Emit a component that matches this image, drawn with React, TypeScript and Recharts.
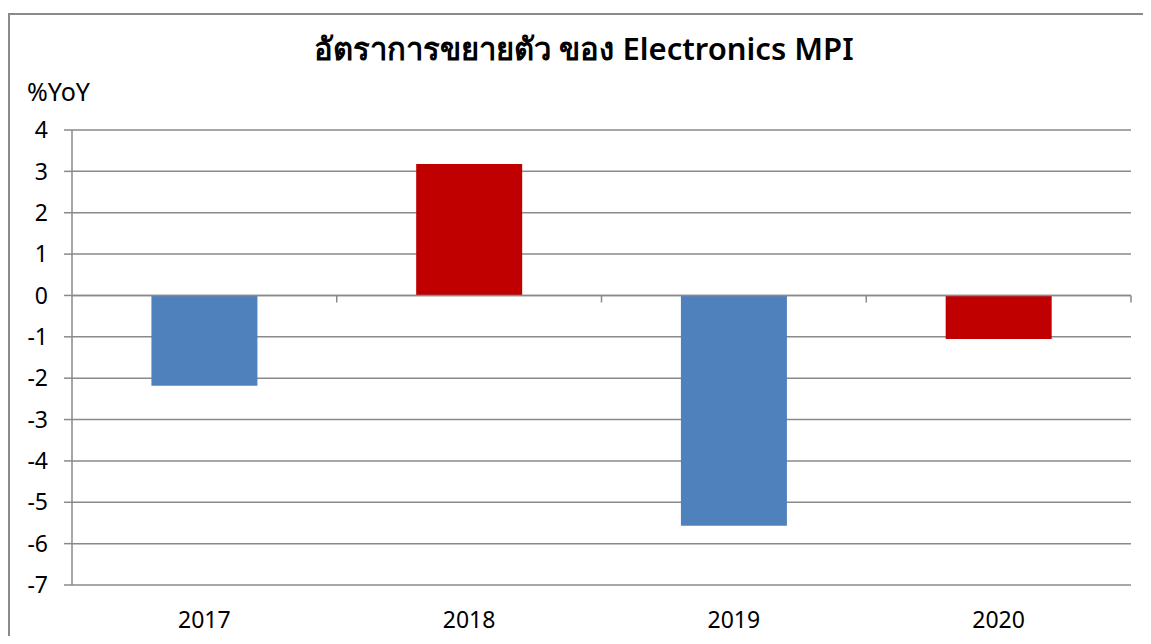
import { BarChart, Bar, XAxis, YAxis, CartesianGrid, Cell, ReferenceLine } from "recharts";

const years = ["2017", "2018", "2019", "2020"];
const growth = [-2.18, 3.18, -5.57, -1.05];
const barColors = ["#4F81BD", "#C00000", "#4F81BD", "#C00000"];
const yTicks = [4, 3, 2, 1, 0, -1, -2, -3, -4, -5, -6, -7];

const data = years.map((year, i) => ({ year, value: growth[i] }));

const FONT = "'Noto Sans', 'Open Sans', sans-serif";
const GRID = "#8a8a8a";
// short tick marks hanging below the zero line, in data units
const TICK_DEPTH = 0.17;

export default function App() {
  return (
    <div style={{ position: "relative", width: 1143, height: 628, fontFamily: FONT }}>
      <div
        style={{
          position: "absolute",
          left: 0,
          top: 5,
          right: 0,
          bottom: 0,
          borderTop: `2px solid ${GRID}`,
          borderLeft: `2px solid ${GRID}`,
        }}
      />
      <div
        style={{
          position: "absolute",
          left: 0,
          width: 1152,
          top: 16,
          textAlign: "center",
          fontSize: 31,
          fontWeight: 600,
          color: "#000",
          whiteSpace: "nowrap",
        }}
      >
        อัตราการขยายตัว ของ Electronics MPI
      </div>
      <div style={{ position: "absolute", left: 19, top: 66, fontSize: 25, color: "#000" }}>%YoY</div>
      <BarChart
        width={1143}
        height={628}
        data={data}
        margin={{ top: 122, right: 20, left: 0, bottom: 21 }}
        barCategoryGap="30%"
      >
        <CartesianGrid vertical={false} stroke={GRID} strokeWidth={1.5} />
        <XAxis
          dataKey="year"
          axisLine={false}
          tickLine={false}
          tickSize={0}
          tickMargin={27}
          height={30}
          tick={{ fill: "#000", fontSize: 23, fontFamily: FONT }}
        />
        <YAxis
          domain={[-7, 4]}
          ticks={yTicks}
          interval={0}
          width={64}
          axisLine={{ stroke: GRID, strokeWidth: 1.5 }}
          tickLine={{ stroke: GRID, strokeWidth: 1.5 }}
          tickSize={8}
          tickMargin={16}
          tick={{ fill: "#000", fontSize: 23, fontFamily: FONT }}
        />
        <Bar dataKey="value" isAnimationActive={false}>
          {data.map((d, i) => (
            <Cell key={d.year} fill={barColors[i]} />
          ))}
        </Bar>
        <ReferenceLine y={0} stroke={GRID} strokeWidth={1.5} />
        {years.map((y) => (
          <ReferenceLine
            key={"t" + y}
            position="end"
            segment={[
              { x: y, y: 0 },
              { x: y, y: -TICK_DEPTH },
            ]}
            stroke={GRID}
            strokeWidth={1.5}
          />
        ))}
      </BarChart>
    </div>
  );
}
